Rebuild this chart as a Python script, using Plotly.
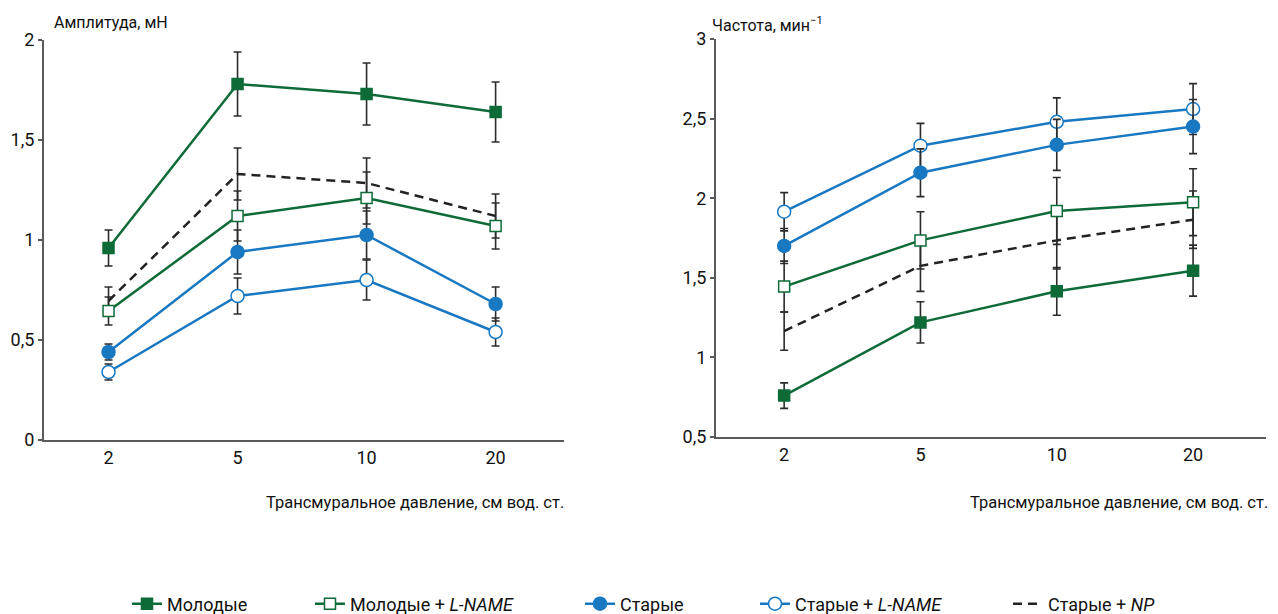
import plotly.graph_objects as go

pressure = ["2", "5", "10", "20"]

# Amplitude, mN
amp_young = [0.96, 1.78, 1.73, 1.64]
amp_young_err = [0.09, 0.16, 0.155, 0.15]
amp_young_lname = [0.645, 1.12, 1.21, 1.07]
amp_young_lname_err = [0.07, 0.125, 0.13, 0.115]
amp_old = [0.44, 0.94, 1.025, 0.68]
amp_old_err = [0.04, 0.11, 0.12, 0.085]
amp_old_lname = [0.34, 0.72, 0.80, 0.54]
amp_old_lname_err = [0.04, 0.09, 0.10, 0.07]
amp_old_np = [0.695, 1.33, 1.285, 1.12]
amp_old_np_err = [0.07, 0.13, 0.125, 0.11]

# Frequency, 1/min
freq_young = [0.76, 1.22, 1.415, 1.545]
freq_young_err = [0.08, 0.13, 0.15, 0.16]
freq_young_lname = [1.445, 1.735, 1.92, 1.975]
freq_young_lname_err = [0.16, 0.18, 0.21, 0.21]
freq_old = [1.70, 2.16, 2.335, 2.45]
freq_old_err = [0.11, 0.15, 0.16, 0.17]
freq_old_lname = [1.915, 2.33, 2.48, 2.56]
freq_old_lname_err = [0.12, 0.14, 0.15, 0.16]
freq_old_np = [1.165, 1.575, 1.735, 1.865]
freq_old_np_err = [0.12, 0.16, 0.18, 0.18]

amp_ticks = [0, 0.5, 1, 1.5, 2]
amp_ticktext = ["0", "0,5", "1", "1,5", "2"]
freq_ticks = [0.5, 1, 1.5, 2, 2.5, 3]
freq_ticktext = ["0,5", "1", "1,5", "2", "2,5", "3"]

GREEN = "#0e6b37"
BLUE = "#1878c2"
ERR = "#2b2b2b"
FONT = "Roboto"

series = [
    ("Молодые", amp_young, amp_young_err, freq_young, freq_young_err,
     dict(color=GREEN, width=2.5), dict(symbol="square", size=11, color=GREEN, line=dict(color=GREEN, width=1.5))),
    ("Молодые + <i>L-NAME</i>", amp_young_lname, amp_young_lname_err, freq_young_lname, freq_young_lname_err,
     dict(color=GREEN, width=2.5), dict(symbol="square", size=11, color="white", line=dict(color=GREEN, width=1.5))),
    ("Старые", amp_old, amp_old_err, freq_old, freq_old_err,
     dict(color=BLUE, width=2.5), dict(symbol="circle", size=13, color=BLUE, line=dict(color=BLUE, width=1.5))),
    ("Старые + <i>L-NAME</i>", amp_old_lname, amp_old_lname_err, freq_old_lname, freq_old_lname_err,
     dict(color=BLUE, width=2.5), dict(symbol="circle", size=13, color="white", line=dict(color=BLUE, width=1.5))),
    ("Старые + <i>NP</i>", amp_old_np, amp_old_np_err, freq_old_np, freq_old_np_err,
     dict(color="#222222", width=2.5, dash="9px,6px"), None),
]

legend_names = ["legend", "legend2", "legend3", "legend4", "legend5"]
legend_x_px = [119, 302, 572, 747, 1000]

fig = go.Figure()
order = [4, 1, 0, 3, 2]
for i in order:
    name, ay, ae, fy, fe, line, marker = series[i]
    mode = "lines" if marker is None else "lines+markers"
    err_a = dict(type="data", array=ae, color=ERR, thickness=1.6, width=4)
    err_f = dict(type="data", array=fe, color=ERR, thickness=1.6, width=4)
    kw = dict(mode=mode, line=line, name=name)
    if marker is not None:
        kw["marker"] = marker
    fig.add_trace(go.Scatter(x=pressure, y=ay, error_y=err_a, xaxis="x", yaxis="y",
                             legend=legend_names[i], showlegend=True, **kw))
    fig.add_trace(go.Scatter(x=pressure, y=fy, error_y=err_f, xaxis="x2", yaxis="y2",
                             legend=legend_names[i], showlegend=False, **kw))

W, H = 1278, 614
PH = 560  # plot-area height (bottom margin holds legend)


def py(fy):
    return (PH - fy) / PH


axis_common = dict(showgrid=False, zeroline=False, showline=True, linecolor="#5a5a5a", linewidth=2,
                   automargin=False, tickfont=dict(family=FONT, size=18, color="#111111"))

layout = dict(
    width=W, height=H,
    paper_bgcolor="white", plot_bgcolor="white",
    margin=dict(l=0, r=0, t=0, b=H - PH, autoexpand=False),
    font=dict(family=FONT, color="#111111"),
    xaxis=dict(domain=[36 / W, 556 / W], type="category", range=[-0.5, 3.53], ticks="",
               anchor="y", **axis_common),
    yaxis=dict(domain=[py(432), py(32)], range=[0, 2], tickvals=amp_ticks, ticktext=amp_ticktext,
               ticks="outside", ticklen=4, tickwidth=1.5, tickcolor="#5a5a5a", anchor="x", **axis_common),
    xaxis2=dict(domain=[708 / W, 1258 / W], type="category", range=[-0.5, 3.535], ticks="",
                anchor="y2", **axis_common),
    yaxis2=dict(domain=[py(429), py(31)], range=[0.5, 3], tickvals=freq_ticks, ticktext=freq_ticktext,
                ticks="outside", ticklen=4, tickwidth=1.5, tickcolor="#5a5a5a", anchor="x2", **axis_common),
    annotations=[
        dict(text="Амплитуда, мН", x=44 / W, y=py(14), xref="paper", yref="paper",
             xanchor="left", yanchor="middle", showarrow=False, font=dict(family=FONT, size=16)),
        dict(text="Частота, мин<sup>−1</sup>", x=702 / W, y=py(16), xref="paper", yref="paper",
             xanchor="left", yanchor="middle", showarrow=False, font=dict(family=FONT, size=16)),
        dict(text="Трансмуральное давление, см вод. ст.", x=558 / W, y=py(494), xref="paper",
             yref="paper", xanchor="right", yanchor="middle", showarrow=False, font=dict(family=FONT, size=16.5)),
        dict(text="Трансмуральное давление, см вод. ст.", x=1262 / W, y=py(494), xref="paper",
             yref="paper", xanchor="right", yanchor="middle", showarrow=False, font=dict(family=FONT, size=16.5)),
    ],
)
for ln, xp in zip(legend_names, legend_x_px):
    layout[ln] = dict(x=xp / W, y=py(596), xanchor="left", yanchor="middle", orientation="h",
                      bgcolor="rgba(0,0,0,0)", font=dict(family=FONT, size=18, color="#111111"),
                      itemwidth=30)

fig.update_layout(**layout)
fig.write_html("out.html")
